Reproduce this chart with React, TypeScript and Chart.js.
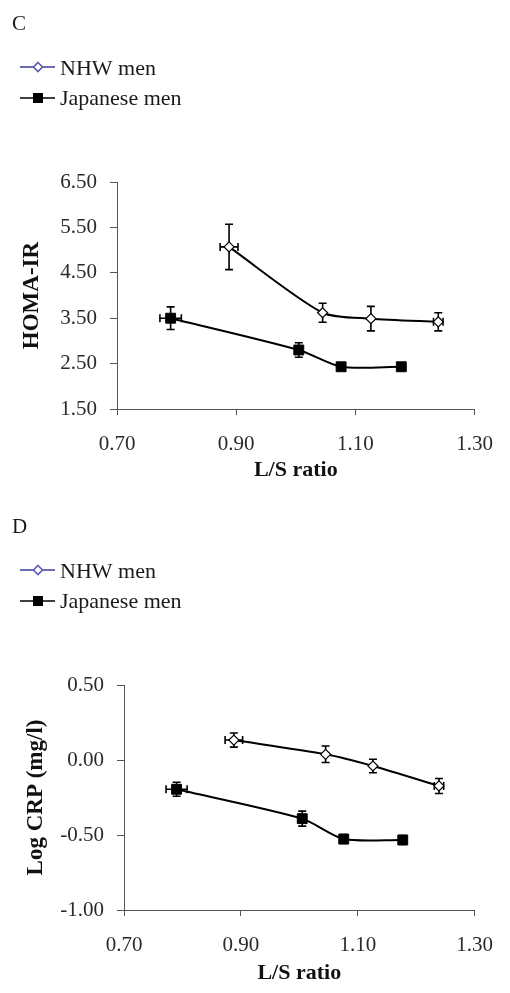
import React, { useEffect, useRef } from "react";
import { Chart, registerables } from "chart.js";

Chart.register(...registerables);

// ---- data ----
const seriesNames = ["NHW men", "Japanese men"];
const xTicks = [0.7, 0.9, 1.1, 1.3];

const nhwLS = [0.888, 1.045, 1.126, 1.239];
const nhwLSErr = [0.015, 0, 0, 0.008];
const japLS = [0.79, 1.005, 1.076, 1.177];
const japLSErr = [0.018, 0, 0, 0];

const homaTicks = [1.5, 2.5, 3.5, 4.5, 5.5, 6.5];
const nhwHoma = [5.07, 3.62, 3.49, 3.42];
const nhwHomaErr = [0.5, 0.21, 0.27, 0.2];
const japHoma = [3.5, 2.8, 2.43, 2.43];
const japHomaErr = [0.25, 0.16, 0.05, 0.04];

const crpTicks = [-1.0, -0.5, 0.0, 0.5];
const nhwCrp = [0.133, 0.038, -0.04, -0.173];
const nhwCrpErr = [0.047, 0.055, 0.045, 0.05];
const japCrp = [-0.195, -0.391, -0.527, -0.533];
const japCrpErr = [0.047, 0.05, 0.03, 0.03];

const FONT = '"Liberation Serif", "Times New Roman", serif';

const errorBarPlugin = {
  id: "errorBars",
  beforeDatasetsDraw(chart: any) {
    const ctx = chart.ctx;
    const xs = chart.scales.x;
    const ys = chart.scales.y;
    const cap = 4;
    chart.data.datasets.forEach((ds: any) => {
      ctx.save();
      ctx.strokeStyle = "#000";
      ctx.lineWidth = 1.6;
      ds.data.forEach((p: any, i: number) => {
        const px = xs.getPixelForValue(p.x);
        const py = ys.getPixelForValue(p.y);
        const ey = ds.yErr ? ds.yErr[i] : 0;
        const ex = ds.xErr ? ds.xErr[i] : 0;
        ctx.beginPath();
        if (ey) {
          const t = ys.getPixelForValue(p.y + ey);
          const b = ys.getPixelForValue(p.y - ey);
          ctx.moveTo(px, t);
          ctx.lineTo(px, b);
          ctx.moveTo(px - cap, t);
          ctx.lineTo(px + cap, t);
          ctx.moveTo(px - cap, b);
          ctx.lineTo(px + cap, b);
        }
        if (ex) {
          const l = xs.getPixelForValue(p.x - ex);
          const r = xs.getPixelForValue(p.x + ex);
          ctx.moveTo(l, py);
          ctx.lineTo(r, py);
          ctx.moveTo(l, py - cap);
          ctx.lineTo(l, py + cap);
          ctx.moveTo(r, py - cap);
          ctx.lineTo(r, py + cap);
        }
        ctx.stroke();
      });
      ctx.restore();
    });
  },
};

const panelPlugin = {
  id: "panelDecor",
  afterDraw(chart: any, _args: any, opts: any) {
    const ctx = chart.ctx;
    ctx.save();
    ctx.fillStyle = "#1a1a1a";
    ctx.font = `21px ${FONT}`;
    ctx.textBaseline = "alphabetic";
    ctx.textAlign = "left";
    ctx.fillText(opts.letter, 12, 30);

    // legend entry 1: NHW
    const y1 = 67;
    ctx.strokeStyle = "#3a3a9e";
    ctx.lineWidth = 1.6;
    ctx.beginPath();
    ctx.moveTo(20, y1);
    ctx.lineTo(55, y1);
    ctx.stroke();
    ctx.fillStyle = "#fff";
    ctx.strokeStyle = "#5a5ab4";
    ctx.beginPath();
    ctx.moveTo(38, y1 - 4.5);
    ctx.lineTo(42.5, y1);
    ctx.lineTo(38, y1 + 4.5);
    ctx.lineTo(33.5, y1);
    ctx.closePath();
    ctx.fill();
    ctx.stroke();

    // legend entry 2: Japanese
    const y2 = 98;
    ctx.strokeStyle = "#000";
    ctx.beginPath();
    ctx.moveTo(20, y2);
    ctx.lineTo(55, y2);
    ctx.stroke();
    ctx.fillStyle = "#000";
    ctx.fillRect(33, y2 - 5, 10, 10);

    ctx.fillStyle = "#1a1a1a";
    ctx.font = `22px ${FONT}`;
    ctx.fillText(seriesNames[0], 60, y1 + 8);
    ctx.fillText(seriesNames[1], 60, y2 + 7);
    ctx.restore();
  },
};

type PanelProps = {
  letter: string;
  yTitle: string;
  yTicks: number[];
  nhwY: number[];
  nhwYErr: number[];
  japY: number[];
  japYErr: number[];
  yAxisWidth: number;
  xAxisHeight: number;
  padRight: number;
  yTitlePad: number;
};

function Panel(props: PanelProps) {
  const ref = useRef<HTMLCanvasElement | null>(null);
  useEffect(() => {
    if (!ref.current) return;
    const yMin = props.yTicks[0];
    const yMax = props.yTicks[props.yTicks.length - 1];
    const chart = new Chart(ref.current, {
      type: "scatter",
      data: {
        datasets: [
          {
            label: seriesNames[0],
            data: nhwLS.map((x, i) => ({ x, y: props.nhwY[i] })),
            yErr: props.nhwYErr,
            xErr: nhwLSErr,
            showLine: true,
            borderColor: "#000",
            borderWidth: 2,
            tension: 0.25,
            pointStyle: "rectRot",
            pointRadius: 5,
            pointBackgroundColor: "#fff",
            pointBorderColor: "#000",
            pointBorderWidth: 1.2,
          } as any,
          {
            label: seriesNames[1],
            data: japLS.map((x, i) => ({ x, y: props.japY[i] })),
            yErr: props.japYErr,
            xErr: japLSErr,
            showLine: true,
            borderColor: "#000",
            borderWidth: 2,
            tension: 0.25,
            pointStyle: "rect",
            pointRadius: 7,
            pointBackgroundColor: "#000",
            pointBorderColor: "#000",
            pointBorderWidth: 1,
          } as any,
        ],
      },
      options: {
        animation: false,
        responsive: false,
        devicePixelRatio: 1,
        layout: { padding: { left: 0, right: props.padRight, top: 182, bottom: 0 } },
        plugins: {
          legend: { display: false },
          tooltip: { enabled: false },
          panelDecor: { letter: props.letter },
        } as any,
        scales: {
          x: {
            type: "linear",
            min: 0.7,
            max: 1.3,
            afterBuildTicks: (s: any) => {
              s.ticks = xTicks.map((v) => ({ value: v }));
            },
            afterFit: (s: any) => {
              s.height = props.xAxisHeight;
            },
            border: { display: true, color: "#555", width: 1 },
            grid: { drawOnChartArea: false, drawTicks: true, tickLength: 6, tickColor: "#555" },
            ticks: {
              padding: 17,
              color: "#2a2a2a",
              font: { family: FONT, size: 21 },
              callback: (v: any) => Number(v).toFixed(2),
            },
            title: {
              display: true,
              text: "L/S ratio",
              color: "#111",
              font: { family: FONT, size: 22, weight: "bold" },
              padding: { top: 0, bottom: 16 },
            },
          },
          y: {
            type: "linear",
            min: yMin,
            max: yMax,
            afterBuildTicks: (s: any) => {
              s.ticks = props.yTicks.map((v) => ({ value: v }));
            },
            afterFit: (s: any) => {
              s.width = props.yAxisWidth;
            },
            border: { display: true, color: "#555", width: 1 },
            grid: { drawOnChartArea: false, drawTicks: true, tickLength: 7, tickColor: "#555" },
            ticks: {
              padding: 13,
              color: "#2a2a2a",
              font: { family: FONT, size: 21 },
              callback: (v: any) => Number(v).toFixed(2),
            },
            title: {
              display: true,
              text: props.yTitle,
              color: "#111",
              font: { family: FONT, size: 23, weight: "bold" },
              padding: { top: props.yTitlePad, bottom: 0 },
            },
          },
        },
      },
      plugins: [errorBarPlugin, panelPlugin],
    } as any);
    return () => chart.destroy();
  }, []);
  return <canvas ref={ref} width={510} height={500} style={{ display: "block" }} />;
}

export default function App() {
  return (
    <div style={{ position: "absolute", left: 0, top: 0, width: 510, height: 993, background: "#fff" }}>
      <div style={{ position: "absolute", left: 0, top: 0, width: 510, height: 477, overflow: "hidden" }}>
        <Panel
          letter="C"
          yTitle="HOMA-IR"
          yTicks={homaTicks}
          nhwY={nhwHoma}
          nhwYErr={nhwHomaErr}
          japY={japHoma}
          japYErr={japHomaErr}
          yAxisWidth={117}
          xAxisHeight={91}
          padRight={32}
          yTitlePad={18}
        />
      </div>
      <div style={{ position: "absolute", left: 0, top: 503, width: 510, height: 477, overflow: "hidden" }}>
        <Panel
          letter="D"
          yTitle="Log CRP (mg/l)"
          yTicks={crpTicks}
          nhwY={nhwCrp}
          nhwYErr={nhwCrpErr}
          japY={japCrp}
          japYErr={japCrpErr}
          yAxisWidth={124}
          xAxisHeight={93}
          padRight={31}
          yTitlePad={22}
        />
      </div>
    </div>
  );
}
